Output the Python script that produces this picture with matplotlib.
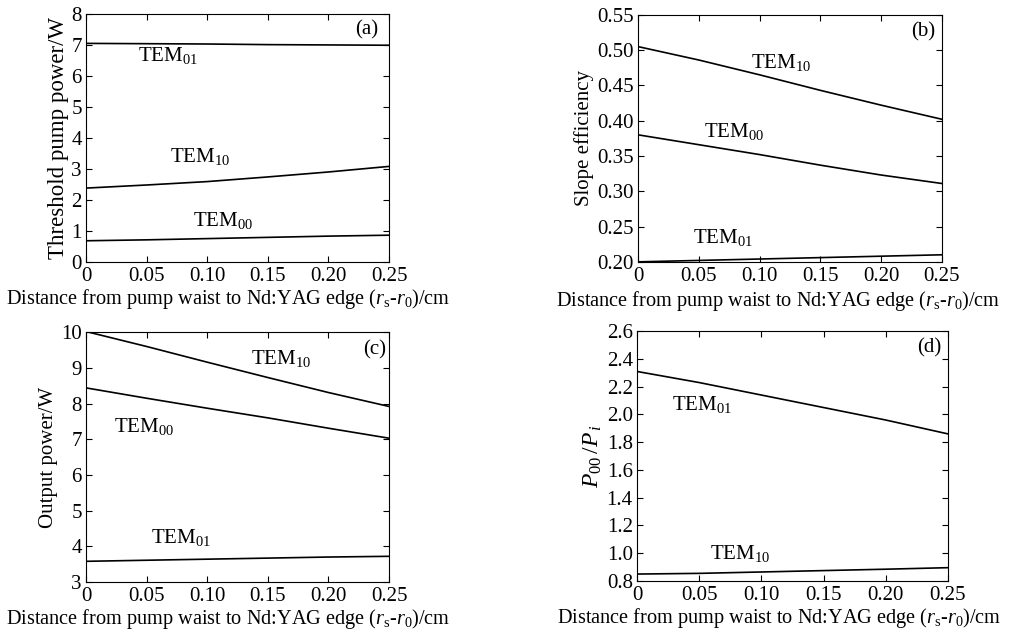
import matplotlib
matplotlib.use('Agg')
import matplotlib.pyplot as plt
from matplotlib.ticker import FormatStrFormatter

plt.rcParams['font.family'] = ['Liberation Serif', 'DejaVu Serif']
plt.rcParams['mathtext.fontset'] = 'custom'
plt.rcParams['mathtext.rm'] = 'Liberation Serif'
plt.rcParams['mathtext.it'] = 'Liberation Serif:italic'
plt.rcParams['font.size'] = 15

# common x values (cm)
x = [0, 0.05, 0.10, 0.15, 0.20, 0.25]
xticks = [0, 0.05, 0.10, 0.15, 0.20, 0.25]
xticklabels = ['0', '0.05', '0.10', '0.15', '0.20', '0.25']

# (a) threshold pump power / W
a_tem01 = [7.05, 7.04, 7.03, 7.01, 7.00, 6.99]
a_tem10 = [2.38, 2.48, 2.59, 2.74, 2.90, 3.08]
a_tem00 = [0.68, 0.71, 0.75, 0.79, 0.83, 0.86]

# (b) slope efficiency
b_tem10 = [0.505, 0.486, 0.465, 0.443, 0.422, 0.402]
b_tem00 = [0.380, 0.366, 0.352, 0.337, 0.323, 0.311]
b_tem01 = [0.200, 0.202, 0.204, 0.206, 0.208, 0.210]

# (c) output power / W
c_tem10 = [10.02, 9.60, 9.16, 8.73, 8.31, 7.92]
c_tem00 = [8.44, 8.15, 7.87, 7.60, 7.31, 7.03]
c_tem01 = [3.58, 3.61, 3.64, 3.67, 3.70, 3.72]

# (d) P00/Pi
d_tem01 = [2.31, 2.23, 2.14, 2.05, 1.96, 1.86]
d_tem10 = [0.85, 0.855, 0.865, 0.875, 0.885, 0.896]

xlabel = r'Distance from pump waist to Nd:YAG edge ($r_\mathrm{s}$-$r_0$)/cm'

fig = plt.figure(figsize=(10.12, 6.34), dpi=100)
axa = fig.add_axes([0.085, 0.587, 0.2994, 0.391])
axb = fig.add_axes([0.6304, 0.587, 0.3004, 0.3896])
axc = fig.add_axes([0.085, 0.082, 0.2994, 0.394])
axd = fig.add_axes([0.6294, 0.0836, 0.3073, 0.394])


def style(ax, ylim, yticks, fmt, xlab_pos, xlab_y=-0.1):
    ax.set_xlim(0, 0.25)
    ax.set_ylim(*ylim)
    ax.set_xticks(xticks)
    ax.set_xticklabels(xticklabels)
    ax.set_yticks(yticks)
    ax.yaxis.set_major_formatter(FormatStrFormatter(fmt))
    ax.tick_params(direction='in', top=True, right=True, length=4,
                   labelsize=15)
    ax.tick_params(axis='x', pad=3.5)
    ax.tick_params(axis='y', pad=3)
    ax.set_xlabel(xlabel, fontsize=14.6)
    ax.xaxis.set_label_coords(xlab_pos, xlab_y)
    for s in ax.spines.values():
        s.set_linewidth(0.8)


def sub(n):
    return r'TEM$_{' + n + '}$'


lw = 1.2
# (a)
for ys in (a_tem01, a_tem10, a_tem00):
    axa.plot(x, ys, color='black', lw=lw)
style(axa, (0, 8), range(0, 9), '%d', 0.47)
axa.set_ylabel('Threshold pump power/W', fontsize=16.5, labelpad=2)
axa.text(0.043, 6.65, sub('01'), va='center')
axa.text(0.069, 3.4, sub('10'), va='center')
axa.text(0.088, 1.35, sub('00'), va='center')
axa.text(0.222, 7.5, '(a)', va='center')

# (b)
for ys in (b_tem10, b_tem00, b_tem01):
    axb.plot(x, ys, color='black', lw=lw)
style(axb, (0.2, 0.55), [0.20, 0.25, 0.30, 0.35, 0.40, 0.45, 0.50, 0.55], '%.2f', 0.46, -0.108)
axb.set_ylabel('Slope efficiency', fontsize=15, labelpad=2)
axb.text(0.093, 0.483, sub('10'), va='center')
axb.text(0.054, 0.384, sub('00'), va='center')
axb.text(0.045, 0.235, sub('01'), va='center')
axb.text(0.225, 0.526, '(b)', va='center')

# (c)
for ys in (c_tem10, c_tem00, c_tem01):
    axc.plot(x, ys, color='black', lw=lw)
style(axc, (3, 10), range(3, 11), '%d', 0.47)
axc.set_ylabel('Output power/W', fontsize=15, labelpad=2)
axc.text(0.136, 9.27, sub('10'), va='center')
axc.text(0.023, 7.37, sub('00'), va='center')
axc.text(0.054, 4.26, sub('01'), va='center')
axc.text(0.229, 9.5, '(c)', va='center')

# (d)
for ys in (d_tem01, d_tem10):
    axd.plot(x, ys, color='black', lw=lw)
style(axd, (0.8, 2.6), [0.8, 1.0, 1.2, 1.4, 1.6, 1.8, 2.0, 2.2, 2.4, 2.6], '%.1f', 0.457, -0.1)
axd.set_ylabel(r'$P_{00}\,/P_{\,i}$', fontsize=17, labelpad=2)
axd.text(0.028, 2.07, sub('01'), va='center')
axd.text(0.059, 1.0, sub('10'), va='center')
axd.text(0.225, 2.48, '(d)', va='center')

fig.savefig('out.png', dpi=100)
